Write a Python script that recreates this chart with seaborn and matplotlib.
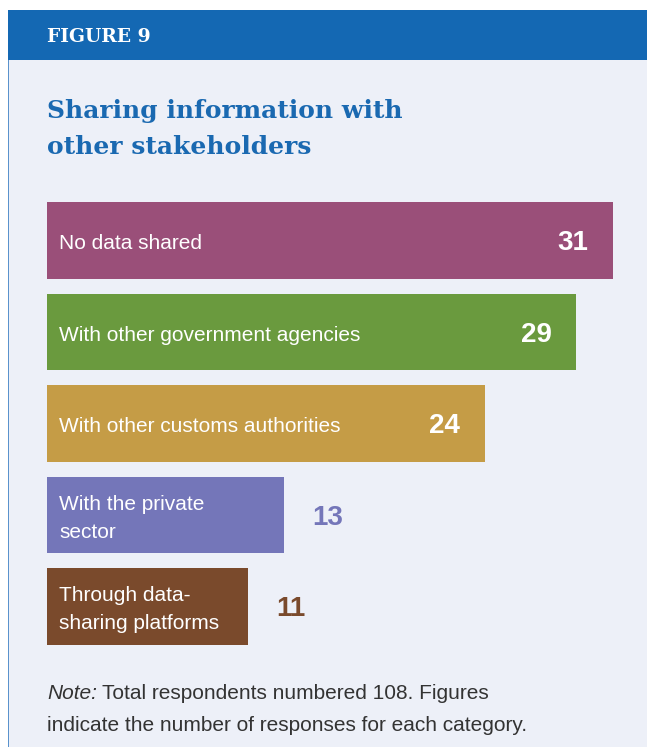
import seaborn as sns
import matplotlib.pyplot as plt
from matplotlib.patches import Rectangle

# Data: responses per category (total respondents 108)
categories = ['No data shared', 'With other government agencies', 'With other customs authorities',
              'With the private\nsector', 'Through data-\nsharing platforms']
responses = [31, 29, 24, 13, 11]
colors = ['#9A4F79', '#6A9A3E', '#C59C46', '#7476B9', '#7A4A2C']

W, H = 647, 747
BG = '#EDF0F8'
BLUE = '#1468B3'

sns.set_theme(style='white')
plt.rcParams['font.family'] = ['Liberation Sans', 'DejaVu Sans']

fig = plt.figure(figsize=(W / 100, H / 100), dpi=100, facecolor='white')


def fx(x):
    return x / W


def fy(y):
    return 1 - y / H


# panel and header (behind the axes)
fig.patches.append(Rectangle((fx(8), 0), 1 - fx(8), fy(60), transform=fig.transFigure,
                             facecolor=BG, edgecolor='none', zorder=-2))
fig.patches.append(Rectangle((fx(8), 0), fx(1.2), fy(60), transform=fig.transFigure,
                             facecolor='#5A92CC', edgecolor='none', zorder=-1))
fig.patches.append(Rectangle((fx(8), fy(60)), 1 - fx(8), fy(10) - fy(60), transform=fig.transFigure,
                             facecolor=BLUE, edgecolor='none', zorder=-1))

fig.text(fx(47), fy(42), 'FIGURE 9', family='DejaVu Serif', weight='bold', fontsize=13.5,
         color='white', va='baseline')
fig.text(fx(47), fy(118), 'Sharing information with', family='DejaVu Serif', weight='bold',
         fontsize=18, color='#1A69B1', va='baseline')
fig.text(fx(47), fy(153.5), 'other stakeholders', family='DejaVu Serif', weight='bold',
         fontsize=18, color='#1A69B1', va='baseline')

# bars
pitch = 91.5
top = 240.5 - pitch / 2
bottom = 606.5 + pitch / 2
ax = fig.add_axes([fx(47), fy(bottom), 32 * 18.25 / W, (bottom - top) / H])
ax.set_facecolor('none')

sns.barplot(x=responses, y=categories, hue=categories, palette=colors, legend=False,
            width=0.84, saturation=1, linewidth=0, ax=ax)
ax.set_xlim(0, 32)
ax.set_ylim(4.5, -0.5)
ax.axis('off')

for i, (cat, val, col) in enumerate(zip(categories, responses, colors)):
    ax.text(0.66, i + 0.035, cat, va='center', ha='left', color='white', fontsize=15,
            linespacing=1.6)
    if val >= 20:
        ax.text(val - 1.35, i + 0.03, str(val), va='center', ha='right', color='white',
                fontsize=20, weight='bold')
    else:
        ax.text(val + 1.55, i + 0.03, str(val), va='center', ha='left', color=col,
                fontsize=20, weight='bold')

# note
note = fig.text(fx(47), fy(699), 'Note:', style='italic', fontsize=15, color='#333333',
                va='baseline')
fig.canvas.draw()
bb = note.get_window_extent()
fig.text(bb.x1 / W + fx(5), fy(699), 'Total respondents numbered 108. Figures', fontsize=15,
         color='#333333', va='baseline')
fig.text(fx(47), fy(731), 'indicate the number of responses for each category.', fontsize=15,
         color='#333333', va='baseline')

fig.savefig('out.png', dpi=100, facecolor='white')
